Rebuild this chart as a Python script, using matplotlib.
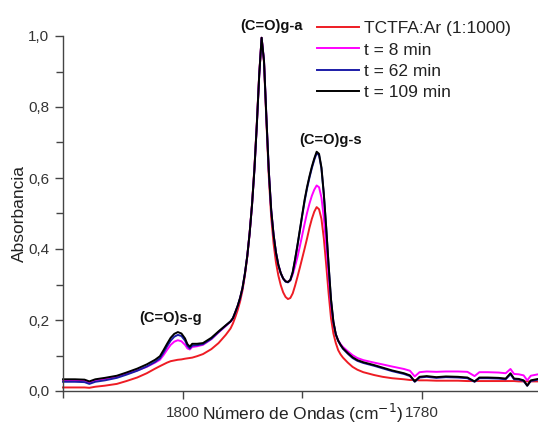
#!/usr/bin/env python3
"""
FTIR spectra of TCTFA:Ar matrix, C=O stretching region
"""
import matplotlib
matplotlib.use('Agg')
import matplotlib.pyplot as plt
from matplotlib.ticker import MultipleLocator, FuncFormatter

plt.rcParams['font.family'] = ['Liberation Sans', 'DejaVu Sans']

# wavenumbers (cm-1), shared by all spectra
wavenumber = [
    # low-absorbance side and (C=O)s-g band
    1810.0, 1809.0, 1808.2, 1807.8, 1807.3, 1806.5, 1805.5, 1804.7, 1803.8, 1803.0,
    1802.3, 1801.9, 1801.6, 1801.3, 1801.0, 1800.7, 1800.4, 1800.1, 1799.8, 1799.6,
    1799.4, 1799.2, 1798.8, 1798.3, 1797.6, 1797.0, 1796.4,
    # (C=O)g-a and (C=O)g-s bands
    1796.0, 1795.8, 1795.6, 1795.4, 1795.2, 1795.0, 1794.8, 1794.6, 1794.4, 1794.2,
    1794.0, 1793.8, 1793.6, 1793.4, 1793.2, 1793.0, 1792.8, 1792.6, 1792.4, 1792.2,
    1792.0, 1791.8, 1791.6, 1791.4, 1791.2, 1791.0, 1790.8, 1790.6, 1790.4, 1790.2,
    1790.0, 1789.8, 1789.6, 1789.4, 1789.2, 1789.0, 1788.8, 1788.6, 1788.4, 1788.2,
    1788.0, 1787.8, 1787.6, 1787.4, 1787.2, 1787.0, 1786.8, 1786.6,
    # tail
    1786.2, 1785.8, 1785.4, 1784.9, 1784.0, 1783.3, 1782.5, 1781.5, 1781.0, 1780.6,
    1780.2, 1779.6, 1778.8, 1778.0, 1777.0, 1776.2, 1775.6, 1775.2, 1774.5, 1773.6,
    1773.0, 1772.6, 1772.3, 1771.9, 1771.5, 1771.2, 1770.9, 1770.3]

abs_matrix = [
    0.010, 0.010, 0.010, 0.009, 0.012, 0.015, 0.020, 0.028, 0.038, 0.050,
    0.063, 0.070, 0.075, 0.080, 0.084, 0.086, 0.088, 0.089, 0.091, 0.092,
    0.093, 0.094, 0.098, 0.104, 0.118, 0.135, 0.158,
    0.176, 0.190, 0.208, 0.228, 0.252, 0.283, 0.325, 0.378, 0.445, 0.527,
    0.630, 0.755, 0.893, 0.995, 0.925, 0.760, 0.605, 0.490, 0.415, 0.362,
    0.325, 0.298, 0.278, 0.265, 0.259, 0.262, 0.275, 0.297, 0.322, 0.348,
    0.375, 0.402, 0.430, 0.460, 0.485, 0.505, 0.518, 0.512, 0.485, 0.430,
    0.355, 0.275, 0.205, 0.162, 0.135, 0.115, 0.103, 0.094,
    0.080, 0.068, 0.060, 0.053, 0.045, 0.040, 0.036, 0.033, 0.031, 0.031,
    0.030, 0.030, 0.029, 0.029, 0.029, 0.028, 0.028, 0.028, 0.028, 0.028,
    0.028, 0.028, 0.028, 0.027, 0.027, 0.027, 0.027, 0.027]

abs_8min = [
    0.030, 0.030, 0.029, 0.024, 0.030, 0.034, 0.040, 0.048, 0.058, 0.068,
    0.080, 0.088, 0.101, 0.116, 0.130, 0.139, 0.143, 0.140, 0.130, 0.120,
    0.117, 0.124, 0.126, 0.130, 0.146, 0.165, 0.183,
    0.195, 0.204, 0.221, 0.239, 0.261, 0.289, 0.330, 0.380, 0.445, 0.525,
    0.625, 0.750, 0.890, 0.995, 0.930, 0.770, 0.620, 0.510, 0.440, 0.390,
    0.355, 0.332, 0.317, 0.309, 0.307, 0.312, 0.328, 0.352, 0.378, 0.408,
    0.440, 0.472, 0.502, 0.528, 0.550, 0.567, 0.579, 0.574, 0.545, 0.488,
    0.410, 0.325, 0.245, 0.192, 0.160, 0.143, 0.132, 0.124,
    0.112, 0.101, 0.093, 0.087, 0.080, 0.075, 0.069, 0.062, 0.057, 0.041,
    0.053, 0.055, 0.054, 0.055, 0.055, 0.054, 0.042, 0.053, 0.053, 0.052,
    0.050, 0.062, 0.048, 0.047, 0.044, 0.030, 0.043, 0.047]

abs_62min = [
    0.026, 0.026, 0.025, 0.020, 0.026, 0.030, 0.037, 0.046, 0.057, 0.069,
    0.082, 0.092, 0.108, 0.126, 0.142, 0.153, 0.158, 0.155, 0.142, 0.127,
    0.120, 0.128, 0.129, 0.132, 0.147, 0.166, 0.184,
    0.196, 0.205, 0.222, 0.240, 0.262, 0.290, 0.330, 0.380, 0.445, 0.525,
    0.625, 0.750, 0.890, 0.995, 0.930, 0.770, 0.620, 0.510, 0.440, 0.390,
    0.355, 0.332, 0.317, 0.308, 0.306, 0.312, 0.334, 0.370, 0.410, 0.452,
    0.495, 0.536, 0.571, 0.601, 0.628, 0.651, 0.670, 0.664, 0.627, 0.553,
    0.458, 0.353, 0.257, 0.194, 0.159, 0.141, 0.129, 0.119,
    0.105, 0.093, 0.085, 0.079, 0.071, 0.064, 0.056, 0.048, 0.042, 0.026,
    0.038, 0.040, 0.037, 0.039, 0.038, 0.036, 0.026, 0.036, 0.036, 0.035,
    0.033, 0.047, 0.033, 0.032, 0.028, 0.015, 0.028, 0.032]

abs_109min = [
    0.033, 0.033, 0.032, 0.027, 0.033, 0.037, 0.043, 0.052, 0.063, 0.075,
    0.088, 0.098, 0.115, 0.133, 0.150, 0.161, 0.166, 0.162, 0.148, 0.132,
    0.125, 0.133, 0.133, 0.135, 0.150, 0.168, 0.185,
    0.196, 0.205, 0.222, 0.240, 0.262, 0.290, 0.330, 0.380, 0.445, 0.525,
    0.625, 0.750, 0.890, 0.995, 0.930, 0.770, 0.620, 0.510, 0.440, 0.390,
    0.355, 0.332, 0.317, 0.309, 0.307, 0.313, 0.335, 0.372, 0.412, 0.455,
    0.498, 0.540, 0.575, 0.605, 0.632, 0.655, 0.674, 0.668, 0.630, 0.555,
    0.460, 0.355, 0.258, 0.195, 0.160, 0.142, 0.130, 0.120,
    0.107, 0.095, 0.087, 0.081, 0.073, 0.066, 0.058, 0.050, 0.044, 0.027,
    0.040, 0.042, 0.039, 0.041, 0.040, 0.038, 0.027, 0.038, 0.038, 0.037,
    0.035, 0.050, 0.035, 0.034, 0.030, 0.015, 0.030, 0.034]

series_labels = ['TCTFA:Ar (1:1000)', 't = 8 min', 't = 62 min', 't = 109 min']
series_colors = ['#ee1c24', '#ff00ff', '#1c1ca8', '#000000']

# band assignments: (text, wavenumber, absorbance)
bands = [('(C=O)g-a', 1792.6, 1.028),
         ('(C=O)g-s', 1787.6, 0.708),
         ('(C=O)s-g', 1801.0, 0.207)]

all_abs = [abs_matrix, abs_8min, abs_62min, abs_109min]
for values in all_abs:
    assert len(values) == len(wavenumber)

fig = plt.figure(figsize=(5.38, 4.25), dpi=100)
ax = fig.add_axes([63 / 538, 1 - 391 / 425, 1 - 63 / 538, (391 - 36) / 425])

for values, label, color in zip(all_abs, series_labels, series_colors):
    ax.plot(wavenumber, values, color=color, lw=1.4, label=label, clip_on=False,
            solid_joinstyle='round')

ax.set_xlim(1810.0, 1770.3)
ax.set_ylim(0, 1.0)

ax.spines['top'].set_visible(False)
ax.spines['right'].set_visible(False)
for side in ['left', 'bottom']:
    ax.spines[side].set_color('#444444')
    ax.spines[side].set_linewidth(1.0)

ax.xaxis.set_major_locator(MultipleLocator(20))
ax.xaxis.set_minor_locator(MultipleLocator(10))
ax.yaxis.set_major_locator(MultipleLocator(0.2))
ax.yaxis.set_minor_locator(MultipleLocator(0.1))
ax.yaxis.set_major_formatter(FuncFormatter(lambda v, p: ('%.1f' % v).replace('.', ',')))
ax.tick_params(which='both', direction='out', color='#444444', width=1.0,
               labelsize=11, labelcolor='#333333')
ax.tick_params(which='major', length=6)
ax.tick_params(which='minor', length=5)
ax.tick_params(axis='x', pad=5)
ax.tick_params(axis='y', pad=4)

ax.set_ylabel('Absorbancia', fontsize=12.5, color='#222222', labelpad=1)
fig.text(303 / 538, 1 - 420 / 425, 'Número de Ondas (cm$^{-1}$)', fontsize=12.5,
         color='#222222', ha='center', va='baseline')

for text, w, a in bands:
    ax.text(w, a, text, fontsize=10.5, fontweight='bold', ha='center', va='center',
            color='#111111', clip_on=False)

leg = ax.legend(loc='upper left', bbox_to_anchor=(317 / 538, 1 - 21 / 425),
                bbox_transform=fig.transFigure, frameon=False, fontsize=12.5,
                handlelength=2.4, handletextpad=0.3, labelspacing=0.36,
                borderaxespad=0, borderpad=0)
for txt in leg.get_texts():
    txt.set_color('#222222')

fig.savefig('out.png', dpi=100)
